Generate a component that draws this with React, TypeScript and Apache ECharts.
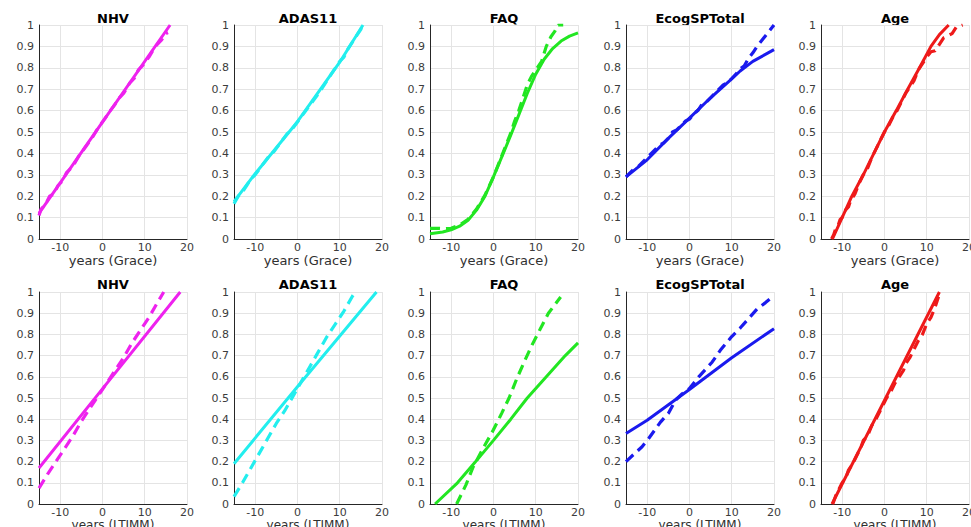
import { useEffect, useRef } from "react";
import * as echarts from "echarts";

// Panel titles and line colours, one per column
const panelTitles = ["NHV", "ADAS11", "FAQ", "EcogSPTotal", "Age"];
const panelColors = ["#ee22ee", "#22eeee", "#22e622", "#1a1aee", "#ee1a1a"];
const rowAxisNames = ["years (Grace)", "years (LTJMM)"];
const xTickValues = [-10, 0, 10, 20];

// Grace row: model curve (solid) and empirical curve (dashed)
const nhvGraceModel = [[-15, 0.12], [0, 0.546], [16, 1.0]];
const nhvGraceData = [
  [-15, 0.11], [-14.5, 0.14], [-13.5, 0.16], [-12.5, 0.2], [-11.5, 0.21], [-10.5, 0.25],
  [-9.5, 0.27], [-8.5, 0.31], [-7, 0.34], [-5.5, 0.39], [-4, 0.43], [-2.5, 0.47], [-1, 0.52],
  [0.5, 0.56], [1.5, 0.59], [3, 0.63], [4, 0.66], [5, 0.68], [6.5, 0.73], [7.5, 0.75],
  [8.5, 0.79], [9.5, 0.81], [11, 0.85], [12.5, 0.9], [14, 0.93], [15, 0.96], [15.5, 0.965],
];
const adasGraceModel = [[-15, 0.175], [-10, 0.305], [0, 0.548], [10, 0.826], [15.5, 1.0]];
const adasGraceData = [
  [-15, 0.165], [-14, 0.2], [-13, 0.22], [-12, 0.25], [-11, 0.28], [-10, 0.3], [-8.5, 0.34],
  [-7, 0.38], [-5.5, 0.41], [-4, 0.45], [-2.5, 0.49], [-1, 0.52], [0.5, 0.56], [2, 0.6],
  [3.5, 0.64], [5, 0.68], [6, 0.71], [7, 0.74], [8, 0.77], [9, 0.8], [10, 0.83], [11, 0.85],
  [12, 0.89], [13, 0.92], [14, 0.95], [15, 0.98], [15.5, 1.0],
];
const faqGraceModel = [
  [-15, 0.025], [-12, 0.033], [-10, 0.043], [-8, 0.06], [-6, 0.088], [-4, 0.135], [-2, 0.2],
  [0, 0.29], [2, 0.385], [4, 0.48], [6, 0.58], [8, 0.68], [10, 0.77], [12, 0.84], [14, 0.89],
  [16, 0.925], [18, 0.948], [20, 0.963],
];
const faqGraceData = [
  [-15, 0.05], [-13, 0.05], [-11.5, 0.048], [-10, 0.05], [-8, 0.065], [-6, 0.092], [-4, 0.14],
  [-2, 0.205], [0, 0.29], [1, 0.34], [2, 0.39], [3, 0.44], [4, 0.49], [5, 0.55], [6, 0.6],
  [7, 0.66], [8, 0.72], [9, 0.76], [10, 0.79], [11.4, 0.83], [12.5, 0.9], [13.6, 0.945],
  [14.5, 0.97], [15.3, 1.0], [16.5, 1.0],
];
const ecogGraceModel = [
  [-15, 0.29], [-10, 0.37], [-5, 0.47], [0, 0.565], [5, 0.66], [10, 0.748], [12, 0.785],
  [15, 0.83], [20, 0.885],
];
const ecogGraceData = [
  [-15, 0.29], [-14, 0.31], [-13, 0.33], [-12, 0.34], [-11, 0.36], [-10, 0.38], [-9, 0.4],
  [-8, 0.42], [-7, 0.44], [-6, 0.45], [-5, 0.47], [-4, 0.5], [-3, 0.51], [-2, 0.53], [-1, 0.55],
  [0, 0.56], [1, 0.585], [2, 0.6], [3, 0.63], [4, 0.64], [5, 0.66], [6, 0.68], [7, 0.7],
  [8, 0.72], [9, 0.73], [10, 0.75], [11, 0.77], [12, 0.795], [13, 0.81], [14, 0.845],
  [15, 0.87], [16, 0.9], [17, 0.925], [18, 0.95], [19, 0.975], [20, 1.0],
];
const ageGraceModel = [
  [-12.3, 0], [-10, 0.1], [-7.7, 0.2], [-5, 0.3], [-2.5, 0.4], [0, 0.5], [2.8, 0.6],
  [5.5, 0.7], [8.3, 0.8], [11, 0.9], [13, 0.955], [15.2, 1.0],
];
const ageGraceData = [
  [-12.5, 0], [-12, 0.02], [-11.5, 0.05], [-11, 0.06], [-10.5, 0.09], [-10, 0.1], [-9.5, 0.13],
  [-8.5, 0.15], [-8, 0.18], [-7, 0.21], [-6, 0.26], [-5, 0.3], [-4, 0.33], [-3, 0.38],
  [-2, 0.42], [-1, 0.46], [0, 0.5], [1, 0.53], [2, 0.57], [3, 0.6], [4, 0.64], [5, 0.68],
  [6, 0.71], [7, 0.74], [8, 0.79], [9, 0.82], [10, 0.85], [11, 0.875], [12, 0.88], [13, 0.91],
  [14, 0.94], [15, 0.95], [16, 0.96], [17, 0.99], [18.5, 1.0],
];

// LTJMM row: model curve (solid) and empirical curve (dashed)
const nhvLtjmmModel = [[-15, 0.17], [0, 0.543], [18.4, 1.0]];
const nhvLtjmmData = [
  [-15, 0.075], [-13, 0.14], [-11, 0.2], [-9, 0.26], [-7, 0.32], [-5, 0.39], [-3, 0.45],
  [-1, 0.51], [1, 0.57], [3, 0.63], [5, 0.69], [7, 0.76], [9, 0.82], [11, 0.88], [13, 0.95],
  [14.5, 1.0],
];
const adasLtjmmModel = [[-15, 0.19], [0, 0.553], [18.7, 1.0]];
const adasLtjmmData = [
  [-15, 0.035], [-13, 0.1], [-11, 0.17], [-9, 0.24], [-7, 0.31], [-5, 0.38], [-3, 0.44],
  [-1, 0.51], [1, 0.58], [3, 0.65], [5, 0.72], [7, 0.79], [9, 0.85], [11, 0.91], [13, 0.98],
  [13.7, 1.0],
];
const faqLtjmmModel = [
  [-13.8, 0], [-8.5, 0.1], [-4.2, 0.2], [0, 0.3], [4.1, 0.4], [8, 0.5], [12.5, 0.6], [17, 0.7],
  [20, 0.76],
];
const faqLtjmmData = [
  [-8.7, 0], [-6.5, 0.09], [-4.8, 0.175], [-2.5, 0.26], [0, 0.35], [2, 0.43], [3.7, 0.5],
  [5.5, 0.59], [7.5, 0.68], [9, 0.745], [10.8, 0.815], [13, 0.9], [15.9, 0.976],
];
const ecogLtjmmModel = [[-15, 0.333], [-10, 0.395], [0, 0.54], [10, 0.69], [20, 0.827]];
const ecogLtjmmData = [
  [-15, 0.2], [-13.4, 0.23], [-11.2, 0.27], [-9.6, 0.31], [-6.9, 0.385], [-4.9, 0.43],
  [-3.3, 0.49], [-1.7, 0.52], [0, 0.545], [1, 0.57], [2.2, 0.6], [5.4, 0.67], [7.3, 0.725],
  [10, 0.79], [12, 0.83], [14, 0.875], [16, 0.92], [18, 0.95], [19.5, 0.975],
];
const ageLtjmmModel = [[-12.4, 0], [0, 0.488], [13, 1.0]];
const ageLtjmmData = [
  [-12.2, 0], [-11.5, 0.04], [-11, 0.06], [-10, 0.1], [-9, 0.13], [-8.5, 0.16], [-7.5, 0.19],
  [-6.5, 0.23], [-5.5, 0.27], [-5, 0.3], [-4, 0.32], [-3, 0.37], [-2, 0.4], [-1, 0.44],
  [0, 0.48], [0.5, 0.5], [1.5, 0.53], [2.5, 0.57], [3.5, 0.6], [4.5, 0.63], [5, 0.66],
  [6, 0.69], [7, 0.73], [8, 0.77], [9, 0.8], [10, 0.85], [11, 0.88], [12, 0.93], [12.5, 0.96],
  [13, 0.99],
];

const modelCurves = [
  [nhvGraceModel, adasGraceModel, faqGraceModel, ecogGraceModel, ageGraceModel],
  [nhvLtjmmModel, adasLtjmmModel, faqLtjmmModel, ecogLtjmmModel, ageLtjmmModel],
];
const dataCurves = [
  [nhvGraceData, adasGraceData, faqGraceData, ecogGraceData, ageGraceData],
  [nhvLtjmmData, adasLtjmmData, faqLtjmmData, ecogLtjmmData, ageLtjmmData],
];

// Panel geometry (px)
const colLefts = [39, 234, 430, 626, 821];
const plotWidth = 148;
const rowTops = [25, 292];
const rowHeights = [214, 212];
const titleYs = [18, 284];
const nameGaps = [13, 11];
const nameSizes = [13, 12];

const FONT = '"DejaVu Sans", "Liberation Sans", Arial, sans-serif';

export default function App() {
  const ref = useRef<HTMLDivElement>(null);

  useEffect(() => {
    if (!ref.current) return;
    const chart = echarts.init(ref.current, null, { renderer: "svg" });

    const grids: any[] = [];
    const xAxes: any[] = [];
    const yAxes: any[] = [];
    const series: any[] = [];
    const graphics: any[] = [];

    for (let r = 0; r < 2; r++) {
      for (let c = 0; c < 5; c++) {
        const i = r * 5 + c;
        grids.push({
          left: colLefts[c],
          top: rowTops[r],
          width: plotWidth,
          height: rowHeights[r],
          containLabel: false,
          outerBoundsMode: "none",
        });
        xAxes.push({
          gridIndex: i,
          type: "value",
          min: -15,
          max: 20,
          axisLine: { show: true, onZero: false, lineStyle: { color: "#262626", width: 1 } },
          axisTick: { show: false, customValues: xTickValues },
          axisLabel: {
            customValues: xTickValues,
            margin: 3,
            fontSize: 11,
            fontFamily: FONT,
            color: "#3c3c3c",
          },
          splitLine: { show: true, lineStyle: { color: "#e4e4e4", width: 1 } },
          name: rowAxisNames[r],
          nameLocation: "middle",
          nameGap: nameGaps[r],
          nameTextStyle: { fontSize: nameSizes[r], fontFamily: FONT, color: "#303030" },
        });
        yAxes.push({
          gridIndex: i,
          type: "value",
          min: 0,
          max: 1,
          interval: 0.1,
          axisLine: { show: true, onZero: false, lineStyle: { color: "#262626", width: 1 } },
          axisTick: { show: false },
          axisLabel: { margin: 5, fontSize: 11, fontFamily: FONT, color: "#3c3c3c" },
          splitLine: { show: true, lineStyle: { color: "#e4e4e4", width: 1 } },
        });
        series.push({
          type: "line",
          xAxisIndex: i,
          yAxisIndex: i,
          data: modelCurves[r][c],
          showSymbol: false,
          clip: true,
          z: 2,
          lineStyle: { color: panelColors[c], width: 3, type: "solid" },
        });
        series.push({
          type: "line",
          xAxisIndex: i,
          yAxisIndex: i,
          data: dataCurves[r][c],
          showSymbol: false,
          clip: true,
          z: 3,
          lineStyle: { color: panelColors[c], width: 3.2, type: [10, 6] },
        });
        graphics.push({
          type: "text",
          x: colLefts[c] + plotWidth / 2,
          y: titleYs[r],
          style: {
            text: panelTitles[c],
            fill: "#000",
            font: `bold 13px ${FONT}`,
            textAlign: "center",
            textVerticalAlign: "middle",
          },
        });
      }
    }

    chart.setOption({
      animation: false,
      backgroundColor: "#ffffff",
      grid: grids,
      xAxis: xAxes,
      yAxis: yAxes,
      series,
      graphic: graphics,
    });

    return () => chart.dispose();
  }, []);

  return (
    <div
      ref={ref}
      style={{ position: "fixed", left: 0, top: 0, width: 971, height: 527 }}
    />
  );
}
